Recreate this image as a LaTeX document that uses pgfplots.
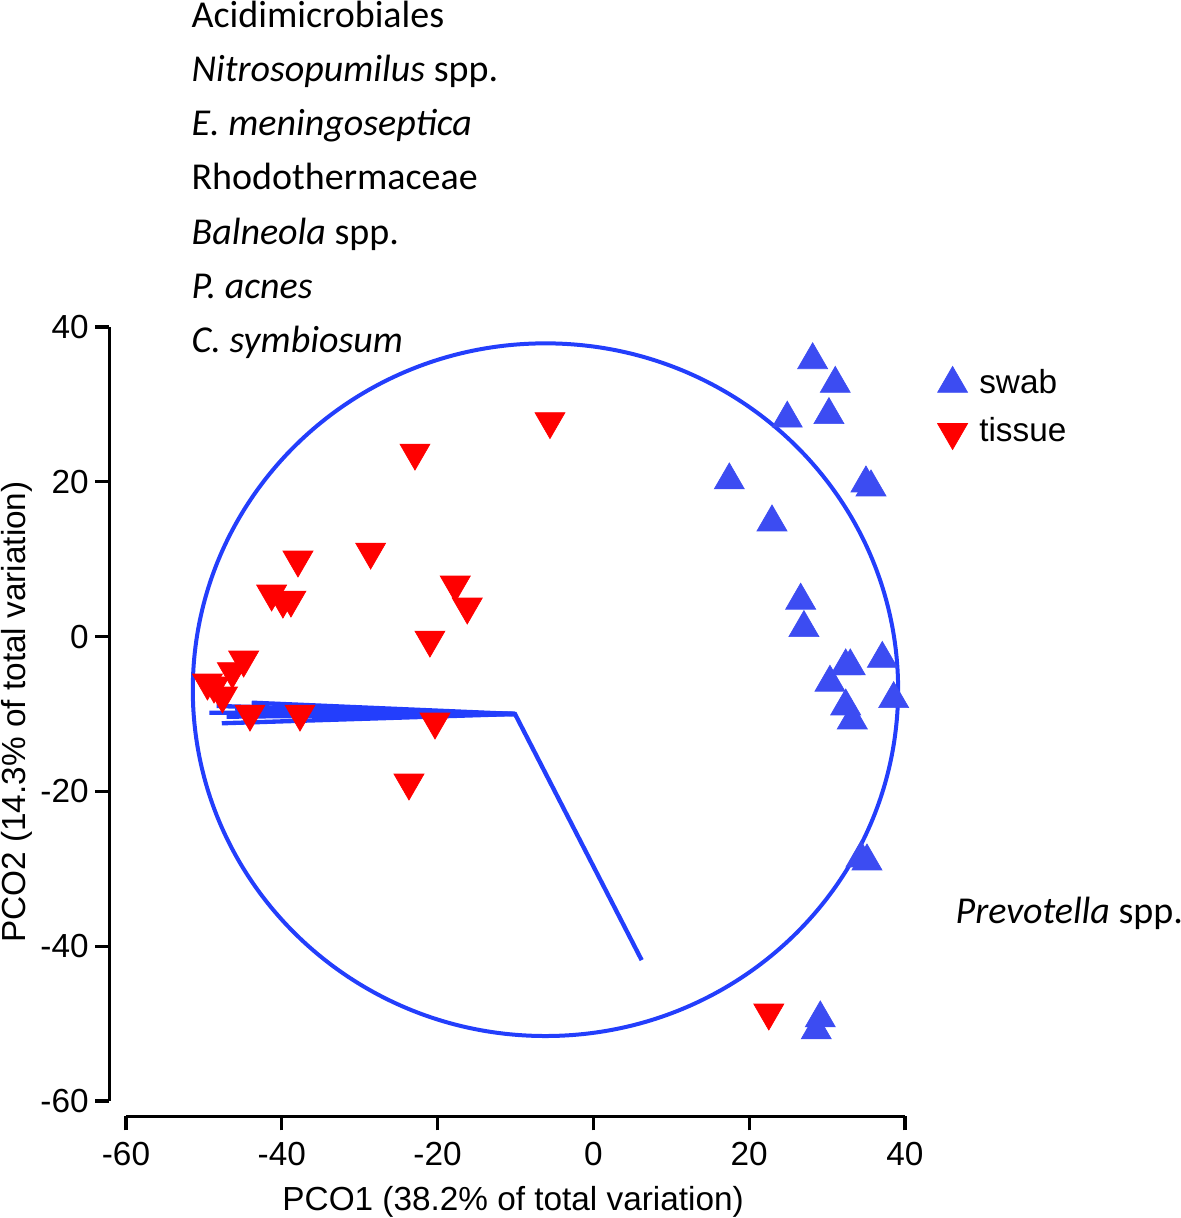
\documentclass[border=0pt]{standalone}
\usepackage{pgfplots}
\pgfplotsset{compat=1.18}
\usepackage{fontspec}
\setmainfont{Liberation Sans}
\newfontfamily\calibri{Carlito}
\definecolor{mblue}{RGB}{60,76,242}
\definecolor{lblue}{RGB}{35,62,252}
\definecolor{mred}{RGB}{255,0,0}
\begin{document}
\begin{tikzpicture}
\begin{axis}[
  x=2.337pt, y=2.322pt,
  xmin=-60, xmax=40, ymin=-60, ymax=40,
  axis x line*=bottom, axis y line*=left,
  axis x line shift=4.6pt, axis y line shift=5pt,
  xtick={-60,-40,-20,0,20,40}, ytick={-60,-40,-20,0,20,40},
  tick align=outside, major tick length=4.2pt,
  every tick/.style={black, line width=1pt},
  axis line style={black, line width=1pt},
  /pgf/number format/assume math mode=true,
  ticklabel style={font=\fontsize{10}{12}\selectfont},
  yticklabel style={inner xsep=1.8pt},
  clip=false,
  xlabel={PCO1 (38.2\% of total variation)},
  ylabel={PCO2 (14.3\% of total variation)},
  xlabel style={at={(axis cs:-10.3,-75.1)}, anchor=south, inner sep=0pt, font=\fontsize{10}{12}\selectfont},
  ylabel style={at={(axis cs:-76.1,-9.74)}, anchor=north, inner sep=0pt, font=\fontsize{10}{12}\selectfont},
  legend style={draw=none, fill=none, at={(axis description cs:1.041,0.955)}, anchor=north west, inner sep=0pt, row sep=1.8pt, font=\fontsize{10}{12}\selectfont, legend cell align=left},
  legend image code/.code={\draw[#1] plot coordinates {(0pt,0pt)};},
]
\addplot[only marks, mark=triangle*, mark size=5.2pt, mark options={fill=mblue, draw=mblue, line width=0.2pt}] coordinates {
(28.15,35.73) (31.05,32.67) (24.89,28.18) (30.24,28.64) (17.45,20.20)
(34.99,19.81) (35.64,19.29) (22.93,14.77) (26.61,4.66) (27.03,1.12)
(37.09,-2.86) (32.39,-3.83) (32.98,-3.83) (30.37,-5.94) (38.55,-8.06)
(32.39,-9.0) (33.24,-10.81) (34.35,-28.64) (35.12,-29.03) (29.13,-49.31)
(28.61,-50.86)
};
\addlegendentry{\hspace{1.5pt}swab}
\addplot[only marks, mark=triangle*, mark size=5.2pt, mark options={rotate=180, fill=mred, draw=mred, line width=0.2pt}] coordinates {
(-5.57,27.82) (-22.9,23.75) (-28.59,10.96) (-37.92,9.93) (-41.30,5.54)
(-39.85,4.63) (-38.82,4.76) (-17.73,6.70) (-16.19,3.86) (-20.98,-0.41)
(-44.89,-2.99) (-46.35,-4.48) (-49.54,-5.96) (-48.70,-6.35) (-47.61,-7.64)
(-44.08,-9.97) (-37.66,-9.97) (-20.33,-11.0) (-23.67,-18.88) (22.52,-48.6)
};
\addlegendentry{\hspace{1.5pt}tissue}
% vectors
\addplot[lblue, line width=1.3pt, forget plot] coordinates {(-49.3,-9.83) (-10.06,-10.0) (6.2,-41.8)};
\addplot[lblue, line width=1.3pt, forget plot] coordinates {(-10.06,-10.0) (-48.36,-8.97)};
\addplot[lblue, line width=1.3pt, forget plot] coordinates {(-10.06,-10.0) (-47.7,-11.2)};
\addplot[lblue, line width=1.3pt, forget plot] coordinates {(-10.06,-10.0) (-47.07,-10.35)};
\addplot[lblue, line width=1.3pt, forget plot] coordinates {(-10.06,-10.0) (-43.86,-8.54)};
\addplot[lblue, line width=1.3pt, forget plot] coordinates {(-10.06,-10.0) (-46.0,-9.3)};
\addplot[lblue, line width=1.3pt, forget plot] coordinates {(-10.06,-10.0) (-45.0,-9.8)};
\draw[lblue, line width=1.2pt] (axis cs:-6.15,-6.86) ellipse [x radius=105.8pt, y radius=103.9pt];
% labels
\begin{scope}[every node/.style={anchor=base west, inner sep=0pt, font=\calibri\fontsize{11.4}{13}\selectfont}]
\node at (axis cs:-51.66,78.76) {Acidimicrobiales};
\node at (axis cs:-51.66,71.74) {\textit{Nitrosopumilus} spp.};
\node at (axis cs:-51.66,64.73) {\textit{E. meningoseptica}};
\node at (axis cs:-51.66,57.71) {Rhodothermaceae};
\node at (axis cs:-51.66,50.70) {\textit{Balneola} spp.};
\node at (axis cs:-51.66,43.68) {\textit{P. acnes}};
\node at (axis cs:-51.66,36.67) {\textit{C. symbiosum}};
\node at (axis cs:46.42,-37.13) {\textit{Prevotella} spp.};
\end{scope}
\coordinate (bbll) at (axis cs:-76.17,-75.12);
\coordinate (bbur) at (axis cs:75.43,82.25);
\end{axis}
\pgfresetboundingbox
\path[use as bounding box] (bbll) rectangle (bbur);
\end{tikzpicture}
\end{document}
